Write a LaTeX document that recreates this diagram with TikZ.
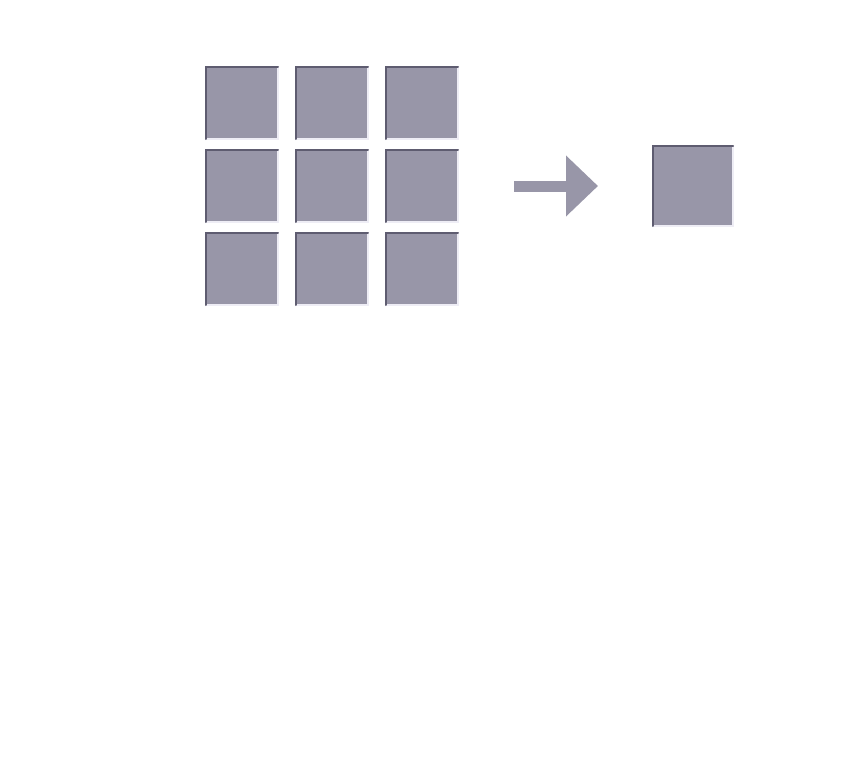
\documentclass[tikz,border=0pt]{standalone}
\usepackage{tikz}
\usetikzlibrary{arrows.meta,positioning}
\definecolor{tilefill}{HTML}{9896A8}
\definecolor{tiledark}{HTML}{5E5C70}
\definecolor{tilelight}{HTML}{EEEDF5}
\begin{document}
\begin{tikzpicture}[x=1pt,y=-1pt,
    tile/.style={fill=tilefill, inner sep=0pt, outer sep=0pt, minimum size=72pt},
    bigtile/.style={tile, minimum size=80pt}]
	\useasboundingbox (0,0) rectangle (846,784);

	% 3x3 input tiles
	\foreach \r/\y in {1/103,2/186,3/269}
		\foreach \c/\x in {1/242,2/332,3/422}
			\node[tile] (t-\r-\c) at (\x,\y) {};

	% output tile
	\node[bigtile] (out) at (693,186) {};

	% bevel edges
	\foreach \t in {t-1-1,t-1-2,t-1-3,t-2-1,t-2-2,t-2-3,t-3-1,t-3-2,t-3-3,out} {
		\draw[tilelight, line width=1.5pt, line cap=round] (\t.north east) -- (\t.south east) -- (\t.south west);
		\draw[tiledark, line width=2pt, line cap=round] (\t.south west) -- (\t.north west) -- (\t.north east);
	}

	\draw[tilefill, line width=11pt, shorten <=56pt, shorten >=55pt,
		-{Triangle[length=32pt,width=59pt]}] (t-2-3.east) -- (out.west);
\end{tikzpicture}
\end{document}
